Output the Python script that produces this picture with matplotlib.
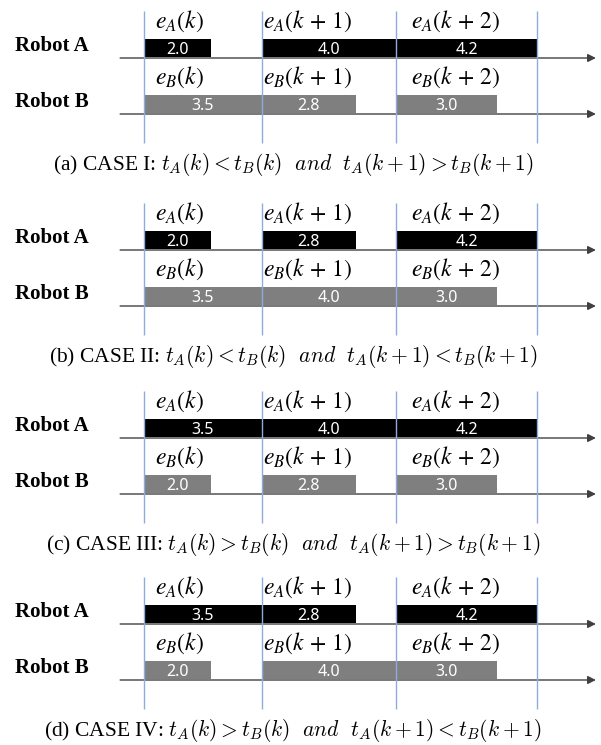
import numpy as np
import matplotlib
matplotlib.use("Agg")
import matplotlib.pyplot as plt

# durations of each step for the two robots, one row per case
case_names = ["(a) CASE I", "(b) CASE II", "(c) CASE III", "(d) CASE IV"]
robot_a = [[2.0, 4.0, 4.2],
           [2.0, 2.8, 4.2],
           [3.5, 4.0, 4.2],
           [3.5, 2.8, 4.2]]
robot_b = [[3.5, 2.8, 3.0],
           [3.5, 4.0, 3.0],
           [2.0, 2.8, 3.0],
           [2.0, 4.0, 3.0]]
relations = [("<", ">"), ("<", "<"), (">", ">"), (">", "<")]
step_names = ["k", r"k\,+\,1", r"k\,+\,2"]

W, H = 601, 745
px = 33.6          # pixels per unit of time
x0 = 144           # pixel of time 0

fig = plt.figure(figsize=(W / 100, H / 100), dpi=100)
ax = fig.add_axes([0, 0, 1, 1])
ax.set_xlim(-x0 / px, (W - x0) / px)
ax.set_ylim(H, 0)
ax.axis("off")

axis_y = [58, 250, 438, 624]      # pixel row of robot A time axis per panel
row_gap = 56                      # robot B axis below robot A axis
bar_h = 18
lab_dx = [0.33, 0.03, 0.45]
vline_c = "#8FAADC"
axis_c = "#404040"

for i in range(4):
    a = np.array(robot_a[i])
    b = np.array(robot_b[i])
    period = np.maximum(a, b)
    bounds = np.concatenate([[0], np.cumsum(period)])
    starts = bounds[:-1]
    ya = axis_y[i]
    yb = ya + row_gap

    # period boundaries
    ax.vlines(bounds, ya - 47, ya + 85, color=vline_c, lw=1, zorder=4)

    for y, dur, col, r in [(ya, a, "black", "A"), (yb, b, "#7F7F7F", "B")]:
        ax.barh(y - 1 - bar_h / 2, dur, left=starts, height=bar_h, color=col, zorder=2)
        for s, d in zip(starts, dur):
            ax.text(s + d / 2, y - 8, f"{d:.1f}", color="white", fontsize=11.5,
                    family="Noto Sans", ha="center", va="center", zorder=5)
        for j, s in enumerate(starts):
            ax.text(s + lab_dx[j], y - 37, f"$e_{r}({step_names[j]})$", fontsize=17,
                    math_fontfamily="stix", ha="left", va="center")
        ax.annotate("", xy=(13.45, y), xytext=(-0.71, y),
                    arrowprops=dict(arrowstyle="-|>", color=axis_c, lw=1,
                                    mutation_scale=12, shrinkA=0, shrinkB=0),
                    zorder=3)
        ax.text(-3.84, y - 12, f"Robot {r}", fontsize=15, fontweight="bold",
                family="Liberation Serif", ha="left", va="center")

    r1, r2 = relations[i]
    cap = (case_names[i] + r": $t_A(k) " + r1 + r" t_B(k)\ \ and\ \ t_A(k+1) "
           + r2 + r" t_B(k+1)$")
    ax.text((293 - x0) / px, ya + 107, cap, fontsize=15.5, family="Liberation Serif",
            math_fontfamily="cm", ha="center", va="center")

fig.savefig("out.png", dpi=100)
